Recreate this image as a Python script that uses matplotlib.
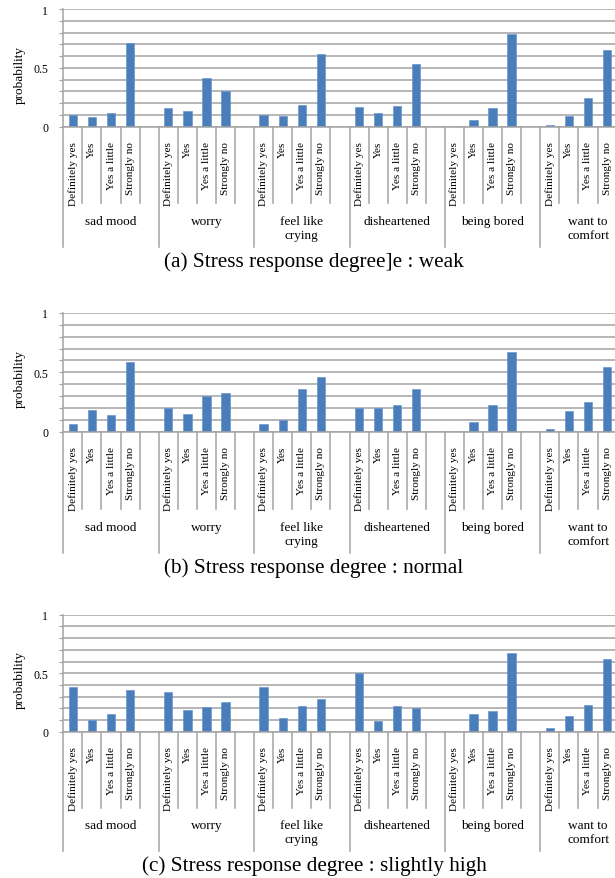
import numpy as np
import matplotlib
matplotlib.use("Agg")
import matplotlib.pyplot as plt

plt.rcParams['font.family'] = ['Liberation Serif', 'DejaVu Serif']

# categories
groups = ['sad mood', 'worry', 'feel like\ncrying', 'disheartened', 'being bored', 'want to\ncomfort']
answers = ['Definitely yes', 'Yes', 'Yes a little', 'Strongly no']

# probabilities per group: [Definitely yes, Yes, Yes a little, Strongly no]
weak = [[0.10, 0.08, 0.114, 0.71],
        [0.156, 0.133, 0.41, 0.30],
        [0.10, 0.09, 0.187, 0.62],
        [0.167, 0.12, 0.178, 0.53],
        [0.0, 0.057, 0.156, 0.79],
        [0.014, 0.09, 0.246, 0.654]]
normal = [[0.065, 0.185, 0.143, 0.585],
          [0.197, 0.152, 0.303, 0.329],
          [0.062, 0.099, 0.362, 0.458],
          [0.197, 0.197, 0.227, 0.362],
          [0.0, 0.084, 0.227, 0.671],
          [0.02, 0.172, 0.25, 0.548]]
slightly_high = [[0.385, 0.10, 0.154, 0.356],
                 [0.342, 0.188, 0.208, 0.256],
                 [0.385, 0.117, 0.222, 0.279],
                 [0.50, 0.091, 0.222, 0.202],
                 [0.0, 0.154, 0.177, 0.67],
                 [0.029, 0.137, 0.231, 0.619]]
captions = ['(a) Stress response degree]e : weak',
            '(b) Stress response degree : normal',
            '(c) Stress response degree : slightly high']

W, H = 615, 879
fig = plt.figure(figsize=(W / 100, H / 100), dpi=100)

grid_c = '#a3a3a3'
bar_c = '#4a7ebb'
slots = 5  # 4 answers + one empty slot per group

# (top px, zero px) of each panel
panels = [(10, 127.7), (314, 432.7), (615.7, 732.7)]
data = [weak, normal, slightly_high]

left_px, width_px = 63.3, 572.4
for (top, zero), vals, cap in zip(panels, data, captions):
    ax = fig.add_axes([left_px / W, 1 - zero / H, width_px / W, (zero - top) / H])
    hpx = zero - top
    ax.set_xlim(0, len(groups) * slots)
    ax.set_ylim(0, 1)
    ax.set_yticks(np.arange(0, 1.01, 0.1))
    ax.set_yticklabels(['0', '', '', '', '', '0.5', '', '', '', '', '1'], fontsize=8.5)
    ax.tick_params(axis='y', length=3, color=grid_c, pad=8)
    ax.set_xticks([])
    ax.grid(axis='y', color=grid_c, linewidth=1.1)
    ax.set_axisbelow(True)
    for s in ['top', 'right']:
        ax.spines[s].set_visible(False)
    for s in ['left', 'bottom']:
        ax.spines[s].set_color(grid_c)
        ax.spines[s].set_linewidth(1.1)
    ax.set_ylabel('probability', fontsize=9.5)
    ax.yaxis.set_label_coords(-0.066, 0.45)

    tr = ax.get_xaxis_transform()
    for g, name in enumerate(groups):
        x0 = g * slots
        xs = x0 + np.arange(len(answers)) + 0.5
        ax.bar(xs, vals[g], width=0.44, color=bar_c, edgecolor='#6b97cf', linewidth=0.5)
        for j, a in enumerate(answers):
            ax.text(xs[j], -0.12, a, transform=tr, rotation=90, ha='center', va='top',
                    fontsize=8.1)
        for k in range(1, slots):
            ax.plot([x0 + k, x0 + k], [0, -0.65], transform=tr, color=grid_c,
                    lw=1.1, clip_on=False)
        ax.plot([x0, x0], [0, -1.02], transform=tr, color=grid_c, lw=1.1, clip_on=False)
        ax.text(x0 + slots / 2, -0.75, name, transform=tr, ha='center', va='top',
                fontsize=9.5, linespacing=1.2)
    ax.plot([len(groups) * slots] * 2, [0, -1.02], transform=tr, color=grid_c, lw=1.1,
            clip_on=False)
    fig.text(314 / W, 1 - (zero + hpx * 1.14) / H, cap, ha='center', va='center',
             fontsize=15.3)

fig.savefig('out.png', dpi=100)
